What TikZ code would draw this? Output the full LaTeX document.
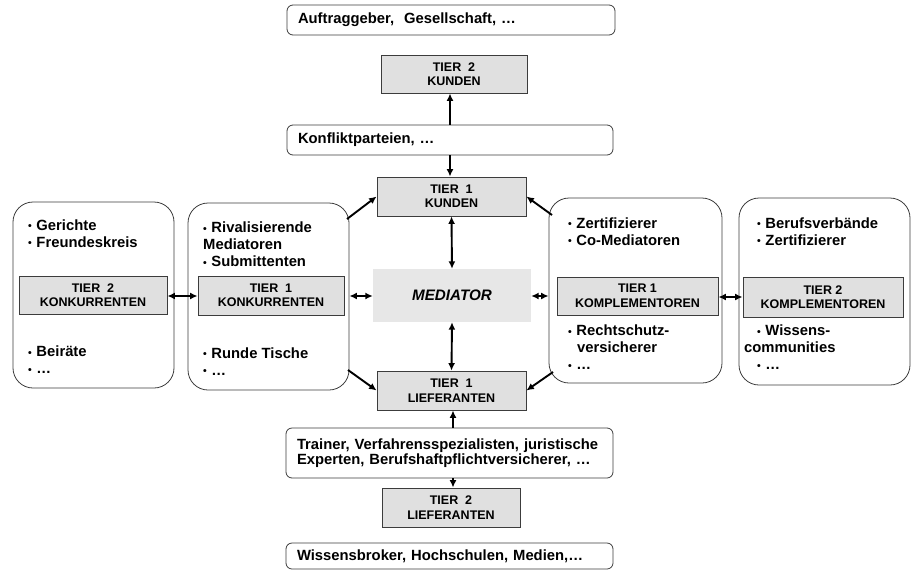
\documentclass[tikz,border=0pt]{standalone}
\usepackage{fontspec}
\setmainfont{Liberation Sans}
\usetikzlibrary{arrows.meta}
\definecolor{boxgray}{RGB}{224,224,224}
\definecolor{medgray}{RGB}{231,231,231}
\definecolor{edgegray}{RGB}{60,60,60}
\newcommand\mfont{\fontsize{14.8}{17}\selectfont\bfseries}
\newcommand\tfont{\fontsize{12.5}{14.5}\selectfont\bfseries}
\newcommand\bul{\raisebox{0.6pt}{\fontsize{10.5}{10.5}\selectfont•}\hspace{4.6pt}}
\begin{document}
\begin{tikzpicture}[x=1pt,y=-1pt,
  wbox/.style={draw=edgegray, line width=0.8pt, rounded corners=6pt, inner xsep=11pt, inner ysep=0pt, font=\mfont, align=left},
  rbox/.style={draw=edgegray, line width=0.8pt, rounded corners=20pt, inner sep=0pt},
  tierbox/.style={draw=edgegray, line width=0.8pt, fill=boxgray, inner sep=0pt, font=\tfont, align=center},
  medbox/.style={fill=medgray, inner sep=0pt, font=\fontsize{15.2}{17}\selectfont\bfseries\itshape},
  ltext/.style={inner sep=0pt, anchor=west, align=left, font=\mfont},
  conn/.style={line width=1.9pt, -{Latex[length=7.5pt,width=7pt]}},
  dconn/.style={line width=1.9pt, {Latex[length=7.5pt,width=7pt]}-{Latex[length=7.5pt,width=7pt]}}
]
\useasboundingbox (0,0) rectangle (913,571);

% top column
\node[wbox, minimum width=328pt, minimum height=30pt, text width=306pt] (auftr) at (451,20) {Auftraggeber,\ \ Gesellschaft, …};
\node[tierbox, minimum width=146pt, minimum height=38pt] (t2k) at (454,74) {TIER\ \ 2\\KUNDEN};
\node[wbox, minimum width=326pt, minimum height=30pt, text width=304pt] (konf) at (450,140) {Konfliktparteien, …};
\node[tierbox, minimum width=149pt, minimum height=39pt] (t1k) at (451.5,196.5) {TIER\ \ 1\\KUNDEN};

% centre
\node[medbox, minimum width=158pt, minimum height=53pt] (med) at (452,295.5) {MEDIATOR};

% bottom column
\node[tierbox, minimum width=149pt, minimum height=39pt] (t1l) at (451.5,390.5) {TIER\ \ 1\\LIEFERANTEN};
\node[wbox, minimum width=327pt, minimum height=50pt, text width=305pt, font=\fontsize{14.8}{14.5}\selectfont\bfseries] (train) at (449.5,453) {Trainer, Verfahrensspezialisten, juristische\\Experten, Berufshaftpflichtversicherer, …};
\node[tierbox, minimum width=138pt, minimum height=39pt] (t2l) at (451,507.5) {TIER\ \ 2\\LIEFERANTEN};
\node[wbox, minimum width=327pt, minimum height=26pt, text width=305pt] (wiss) at (449.5,556) {Wissensbroker, Hochschulen, Medien,…};

% left side
\node[rbox, minimum width=161pt, minimum height=186pt] (rk2) at (93.5,295) {};
\node[tierbox, minimum width=148pt, minimum height=38pt] (t2kon) at (93,295) {TIER\ \ 2\\KONKURRENTEN};
\node[ltext] (rk2a) at (28,233.5) {\bul Gerichte\\\bul Freundeskreis};
\node[ltext] (rk2b) at (28,360) {\bul Beiräte\\\bul …};

\node[rbox, minimum width=161pt, minimum height=187pt] (rk1) at (268.5,296.5) {};
\node[tierbox, minimum width=146pt, minimum height=39pt] (t1kon) at (271,295.5) {TIER\ \ 1\\KONKURRENTEN};
\node[ltext] (rk1a) at (203,244.5) {\bul Rivalisierende\\Mediatoren\\\bul Submittenten};
\node[ltext] (rk1b) at (203,361.5) {\bul Runde Tische\\\bul …};

% right side
\node[rbox, minimum width=173pt, minimum height=185pt] (rc1) at (635.5,290.5) {};
\node[tierbox, minimum width=161pt, minimum height=38pt] (t1kom) at (637.5,296) {TIER 1\\KOMPLEMENTOREN};
\node[ltext] (rc1a) at (568,231.5) {\bul Zertifizierer\\\bul Co-Mediatoren};
\node[ltext] (rc1b) at (568,347.5) {\bul Rechtschutz-\\\hspace*{9pt}versicherer\\\bul …};

\node[rbox, minimum width=171pt, minimum height=187pt] (rc2) at (824.5,291.5) {};
\node[tierbox, minimum width=160pt, minimum height=40pt] (t2kom) at (823,297) {TIER 2\\KOMPLEMENTOREN};
\node[ltext] (rc2a) at (757,231.5) {\bul Berufsverbände\\\bul Zertifizierer};
\node[ltext] (rc2b) at (757,347.5) {\bul Wissens-\\\hspace*{-13pt}communities\\\bul …};

% free ends of the diagonal connectors
\coordinate (rk1ne) at (347,219);
\coordinate (rk1se) at (348,370);
\coordinate (rc1nw) at (552,215);
\coordinate (rc1sw) at (553,372);

% connectors
\draw[conn] (konf.north -| t2k.south) ++(-4,0) coordinate (kq) -- (kq |- t2k.south);
\draw[conn] (konf.south) coordinate (kp) -- (kp |- t1k.north);
\draw[dconn] (t1k.south) -- (med.north);
\draw[dconn] (med.south) -- (t1l.north);
\draw[conn] (train.north) ++(3.5,0) coordinate (tq) -- (tq |- t1l.south);
\draw[conn] (train.south) ++(3.5,0) coordinate (tp) -- (tp |- t2l.north);

\draw[conn] (rk1ne) -- (t1k.west);
\draw[conn] (rk1se) -- (t1l.west);
\draw[conn] (rc1nw) -- (t1k.east);
\draw[conn] (rc1sw) -- (t1l.east);

\draw[dconn] (t2kon.east |- 0,296) -- (t1kon.west |- 0,296);
\draw[dconn] (rk1.east |- 0,296) -- (med.west |- 0,296);
\draw[dconn] (med.east |- 0,296) -- (rc1.west |- 0,296);
\draw[dconn] (t1kom.east |- 0,297) -- (t2kom.west |- 0,297);
\end{tikzpicture}
\end{document}
